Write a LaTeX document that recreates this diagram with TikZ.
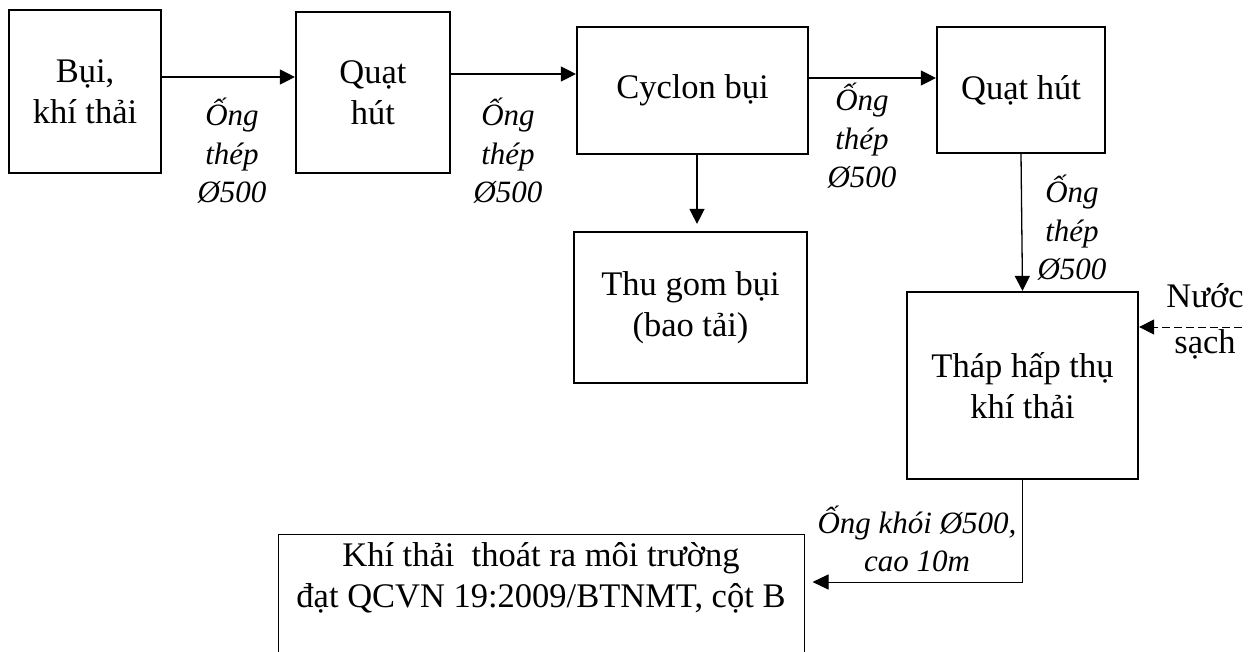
\documentclass[tikz,border=0pt]{standalone}
\usepackage{fontspec}
\setmainfont{Liberation Serif}
\usetikzlibrary{arrows.meta}
\begin{document}
\begin{tikzpicture}[x=1pt,y=-1pt,
  box/.style={draw, line width=2.2pt, align=center, inner sep=0pt,
    font=\fontsize{34.5}{41.5}\selectfont},
  thinbox/.style={draw, line width=1pt, inner sep=0pt},
  txt/.style={align=center, inner sep=0pt, font=\fontsize{34.5}{41.5}\selectfont},
  lbl/.style={align=center, inner sep=0pt, font=\fontsize{31}{38.5}\selectfont\itshape},
  arr/.style={line width=1.3pt, -{Triangle[length=15pt,width=15pt]}},
  thinarr/.style={line width=1pt, -{Triangle[length=16pt,width=15pt]}},
]
\useasboundingbox (0,0) rectangle (1257,652);
\clip (0,0) rectangle (1257,652);
\fill[white] (0,0) rectangle (1257,652);

% boxes
\node[box, minimum width=152pt, minimum height=163pt] (b1) at (85,91.5) {Bụi,\\khí thải};
\node[box, minimum width=154pt, minimum height=161pt] (b2) at (373,92.5) {Quạt\\hút};
\node[box, minimum width=231pt, minimum height=127pt] (cyc) at (692.5,90.5) {Cyclon bụi};
\node[box, minimum width=168pt, minimum height=126pt] (b4) at (1021,90) {Quạt hút};
\node[box, minimum width=233pt, minimum height=151pt] (thu) at (690.5,307.5) {Thu gom bụi\\(bao tải)};
\node[box, minimum width=231pt, minimum height=187pt] (tower) at (1022.5,385.5) {Tháp hấp thụ\\khí thải};
\node[thinbox, minimum width=526pt, minimum height=166pt] (outbox) at (541,617) {};
\node[txt] (outtxt) at (541,578) {Khí thải~ thoát ra môi trường\\đạt QCVN 19:2009/BTNMT, cột B};

% labels
\node[lbl] (l1) at (232,151) {Ống\\thép\\Ø500};
\node[lbl] (l2) at (508,151) {Ống\\thép\\Ø500};
\node[lbl] (l3) at (862,136) {Ống\\thép\\Ø500};
\node[lbl] (l4) at (1072,228) {Ống\\thép\\Ø500};
\node[lbl] (l5) at (917,539) {Ống khói Ø500,\\cao 10m};
\node[txt, font=\fontsize{34.5}{46}\selectfont] (water) at (1205,321) {Nước\\sạch};

% connectors
\draw[arr] (b1.east |- 0,77) -- (b2.west |- 0,77);
\draw[arr] (b2.east |- 0,74) -- (cyc.west |- 0,74);
\draw[arr] (cyc.east |- 0,78) -- (b4.west |- 0,78);
\draw[arr, shorten >=7pt] (cyc.south -| 697,0) -- (thu.north -| 697,0);
\draw[arr] (b4.south) -- (tower.north);
\coordinate (wsrc) at (1242,327);
\draw[line width=1pt, dash pattern=on 8pt off 4pt, -{Triangle[length=15pt,width=15pt]}] (wsrc) -- (tower.east |- wsrc);
\draw[thinarr] (tower.south) |- ([xshift=8pt]outbox.east |- 0,582);
\end{tikzpicture}
\end{document}
